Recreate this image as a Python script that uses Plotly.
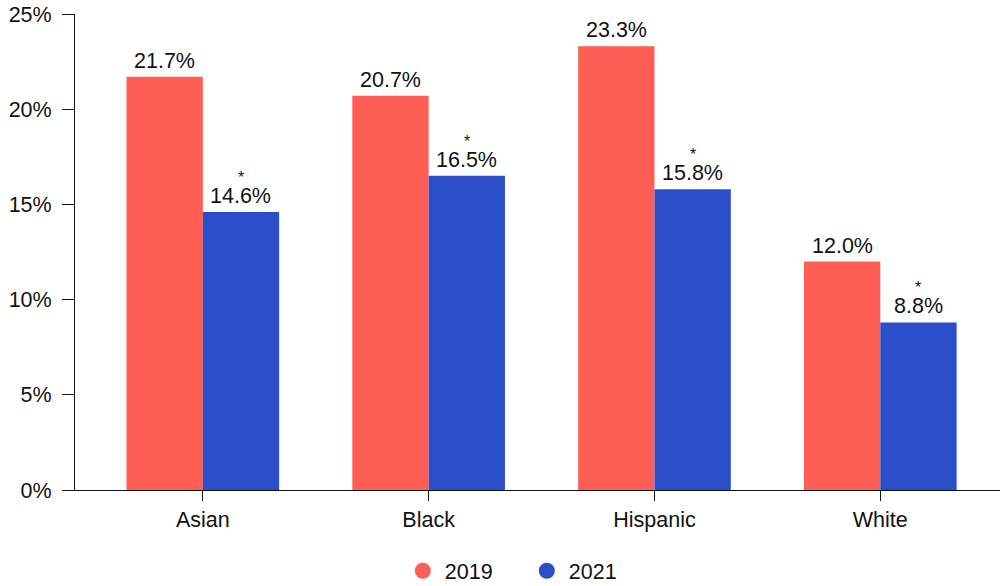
import plotly.graph_objects as go

categories = ["Asian", "Black", "Hispanic", "White"]
values_2019 = [21.7, 20.7, 23.3, 12.0]
values_2021 = [14.6, 16.5, 15.8, 8.8]
sig_2021 = [True, True, True, True]
y_ticks = [0, 5, 10, 15, 20, 25]

RED = "#FE5E54"
BLUE = "#2B4FC9"
FONT = "Liberation Sans, Arial, Helvetica, sans-serif"
FS = 21.5
BARGAP = 0.324

fig = go.Figure()
fig.add_trace(go.Bar(x=categories, y=values_2019, name="2019", marker_color=RED,
                     marker_line_width=0, showlegend=False))
fig.add_trace(go.Bar(x=categories, y=values_2021, name="2021", marker_color=BLUE,
                     marker_line_width=0, showlegend=False))
# legend entries with circle markers
for name, col in [("2019", RED), ("2021", BLUE)]:
    fig.add_trace(go.Scatter(x=[None], y=[None], mode="markers", name=name,
                             marker=dict(color=col, size=22, symbol="circle")))

off = (1 - BARGAP) / 4
annotations = []
for i, (a, b) in enumerate(zip(values_2019, values_2021)):
    annotations.append(dict(x=i - off, y=a, xref="x", yref="y", text=f"{a:.1f}%",
                            showarrow=False, yanchor="bottom", yshift=2,
                            font=dict(size=FS, color="#111", family=FONT)))
    annotations.append(dict(x=i + off, y=b, xref="x", yref="y", text=f"{b:.1f}%",
                            showarrow=False, yanchor="bottom", yshift=2,
                            font=dict(size=FS, color="#111", family=FONT)))
    if sig_2021[i]:
        annotations.append(dict(x=i + off, y=b, xref="x", yref="y", text="*",
                                showarrow=False, yanchor="bottom", yshift=24,
                                font=dict(size=16, color="#111", family=FONT)))

fig.update_layout(
    width=1002, height=586,
    margin=dict(l=75, r=2, t=14, b=96),
    barmode="group", bargap=BARGAP, bargroupgap=0,
    plot_bgcolor="white", paper_bgcolor="white",
    font=dict(family=FONT, size=FS, color="#111"),
    annotations=annotations,
    legend=dict(orientation="h", x=0.4, xanchor="left", xref="container",
                y=0.026, yanchor="middle", yref="container",
                entrywidth=75, entrywidthmode="pixels",
                font=dict(size=FS, color="#111"), itemwidth=34, tracegroupgap=0),
    xaxis=dict(type="category", range=[-0.566, 3.53], showline=True, linecolor="#111",
               linewidth=1, ticks="outside", ticklen=10, tickcolor="#111",
               tickfont=dict(size=FS, color="#111"), showgrid=False, zeroline=False),
    yaxis=dict(range=[0, 25], tickvals=y_ticks, ticktext=[f"{t}%" for t in y_ticks],
               showline=True, linecolor="#111", linewidth=1, ticks="outside", ticklen=12,
               tickcolor="#111", tickfont=dict(size=FS, color="#111"), showgrid=False,
               zeroline=False, ticklabelstandoff=6),
)

fig.write_html("out.html")
